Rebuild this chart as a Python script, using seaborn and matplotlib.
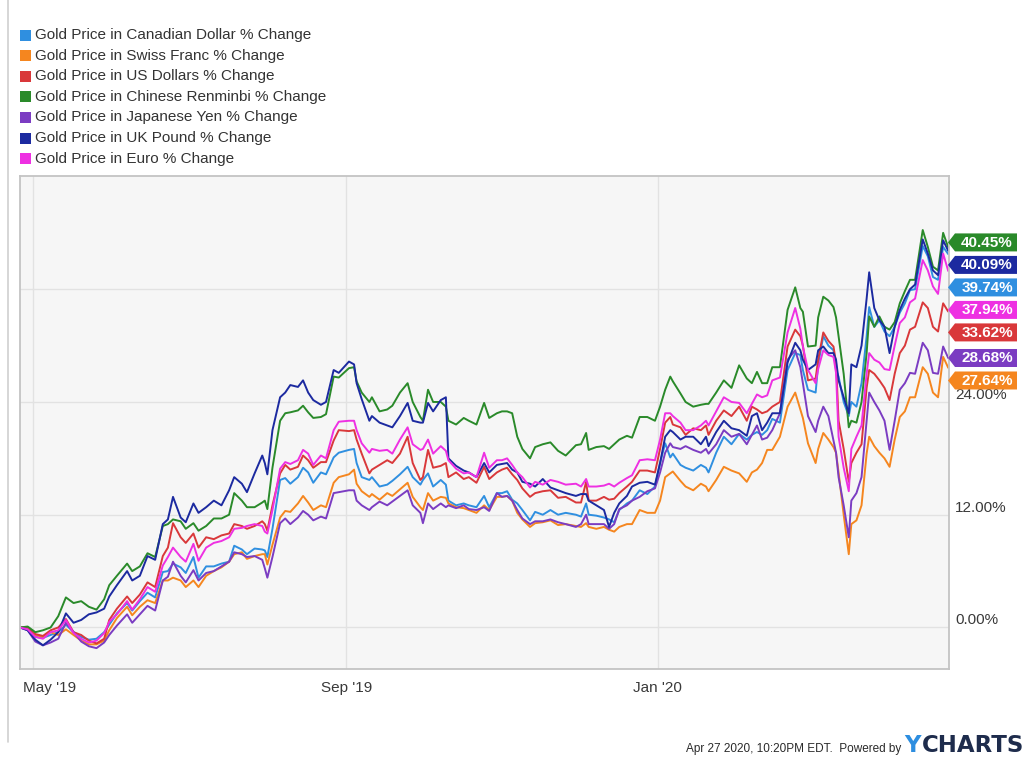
import numpy as np
import pandas as pd
import matplotlib
matplotlib.use("Agg")
import matplotlib.pyplot as plt
import matplotlib.dates as mdates
from matplotlib.patches import Polygon, Rectangle
from matplotlib.transforms import ScaledTranslation
import seaborn as sns

# ---------------------------------------------------------------- data
start_date = "2019-04-26"
day_offsets = [
    0, 3, 6, 9, 12, 15, 18, 21, 24, 27, 30, 33, 35, 38, 42, 44, 47, 50, 53, 56,
    58, 60, 63, 65, 68, 70, 73, 76, 79, 82, 84, 87, 89, 92, 95, 96, 97, 99, 102, 104,
    106, 109, 111, 113, 115, 118, 120, 123, 125, 129, 131, 132, 134, 137, 138, 141, 144, 146, 149, 152,
    154, 157, 158, 160, 162, 165, 167, 168, 171, 174, 176, 179, 182, 184, 187, 189, 191, 193, 195, 197,
    200, 202, 205, 208, 211, 214, 218, 220, 222, 223, 226, 229, 231, 233, 235, 238, 240, 243, 246, 249,
    251, 253, 255, 256, 259, 261, 264, 267, 269, 270, 273, 276, 279, 282, 285, 287, 289, 291, 293, 295,
    298, 301, 304, 306, 307, 309, 312, 313, 315, 317, 319, 320, 321, 323, 325, 326, 328, 330, 332, 333,
    335, 337, 339, 341, 343, 345, 347, 349, 351, 354, 356, 358, 360, 362, 364,
]

cad = [
    0, -0.2, -1.0, -1.1, -0.8, -0.5, 0.3, -0.5, -1.0, -1.3, -1.2, -0.5, 0.3, 1.5, 2.6, 1.8, 2.8, 3.7, 3.2, 5.9,
    6.0, 6.8, 6.4, 5.8, 7.5, 5.3, 6.5, 6.5, 6.8, 7.0, 8.7, 8.3, 7.8, 8.4, 8.3, 8.2, 7.5, 10.5, 15.7, 15.9,
    15.3, 16.0, 17.0, 16.5, 15.4, 16.5, 16.3, 18.1, 18.6, 18.9, 19.0, 17.5, 16.0, 15.7, 16.0, 15.0, 15.2, 15.6, 16.3, 17.1,
    16.0, 15.2, 15.7, 16.4, 15.0, 15.7, 15.2, 13.5, 13.0, 13.2, 13.0, 12.8, 14.0, 12.8, 14.3, 14.3, 14.5, 13.6, 13.2, 12.5,
    11.4, 12.3, 12.0, 12.5, 12.0, 12.2, 12.0, 11.8, 13.2, 12.0, 11.9, 11.7, 11.5, 11.2, 12.5, 13.2, 13.5, 14.6, 14.2, 15.0,
    17.5, 19.6, 18.1, 18.5, 17.3, 17.0, 16.7, 17.3, 17.0, 16.5, 18.6, 20.3, 19.5, 20.6, 20.0, 20.5, 20.8, 20.5, 21.0, 22.2,
    21.8, 27.4, 29.2, 29.0, 27.4, 25.3, 25.0, 28.0, 31.0, 30.0, 29.5, 27.4, 26.7, 24.0, 22.5, 24.0, 23.5, 26.0, 31.0, 34.1,
    32.0, 32.7, 31.5, 31.0, 32.0, 33.5, 34.5, 35.9, 36.0, 40.6, 39.5, 37.3, 37.0, 40.5, 39.74,
]
chf = [
    0, -0.1, -0.8, -1.0, -0.5, -0.8, -0.2, -0.8, -1.4, -1.8, -1.8, -1.4, -0.3, 1.0, 2.2, 1.3, 2.2, 2.9, 2.6, 5.0,
    5.0, 5.3, 5.0, 4.3, 5.0, 4.3, 5.5, 6.0, 6.4, 7.0, 7.8, 8.0, 7.3, 7.6, 7.8, 7.8, 6.7, 8.8, 11.7, 12.4,
    12.3, 13.2, 14.0, 13.3, 12.5, 13.0, 12.8, 15.4, 16.0, 16.3, 16.8, 15.3, 14.5, 13.9, 14.2, 13.6, 14.3, 14.0, 14.7, 15.4,
    13.9, 12.8, 12.5, 14.3, 13.5, 13.9, 13.8, 13.2, 12.8, 12.7, 12.5, 12.2, 13.0, 12.5, 13.9, 13.9, 14.0, 13.5, 12.2, 11.5,
    10.7, 11.1, 11.2, 11.4, 10.9, 11.0, 10.8, 10.7, 11.1, 10.7, 10.5, 10.7, 10.4, 10.2, 10.7, 11.0, 11.0, 12.5, 12.2, 12.2,
    13.5, 16.0, 16.4, 16.6, 15.6, 15.0, 14.6, 15.3, 15.0, 14.5, 15.7, 17.1, 16.7, 16.4, 15.5, 16.5, 16.8, 17.5, 18.9, 18.9,
    20.3, 23.5, 25.0, 23.2, 22.3, 19.6, 17.5, 19.0, 20.7, 20.0, 19.2, 18.6, 16.5, 12.0, 7.8, 11.0, 11.4, 13.0, 18.5, 20.3,
    19.3, 18.6, 18.0, 17.1, 20.0, 22.4, 23.0, 24.5, 24.5, 27.7, 27.0, 25.0, 24.5, 28.8, 27.64,
]
usd = [
    0, 0, -0.7, -0.9, -0.3, 0.0, 0.9, -0.5, -0.8, -1.4, -1.7, -1.2, 0.8, 2.0, 3.3, 2.6, 3.5, 4.8, 4.3, 7.6,
    8.5, 11.1, 9.6, 9.0, 10.0, 8.5, 9.6, 9.4, 9.8, 10.0, 11.0, 10.8, 10.5, 10.8, 11.3, 11.0, 10.3, 13.0, 16.4, 17.3,
    16.8, 17.1, 18.3, 17.8, 17.0, 17.6, 17.6, 19.9, 21.0, 20.9, 21.0, 20.0, 18.5, 16.4, 16.8, 17.3, 17.8, 17.5, 18.5, 20.3,
    17.5, 15.7, 16.0, 18.9, 17.0, 17.2, 17.5, 16.0, 16.5, 15.8, 16.0, 15.4, 17.1, 15.8, 16.5, 16.8, 17.0, 16.3, 15.7, 14.8,
    13.9, 14.3, 14.5, 14.6, 13.8, 13.9, 13.3, 13.3, 15.5, 13.5, 13.5, 13.9, 13.6, 13.7, 14.3, 15.0, 15.5, 16.7, 16.7, 16.5,
    19.0, 21.8, 22.4, 21.6, 21.3, 20.5, 21.2, 21.0, 21.5, 20.5, 22.0, 23.1, 22.5, 23.5, 22.0, 23.5, 23.2, 22.8, 23.0, 23.5,
    24.0, 29.9, 31.7, 31.0, 30.0, 26.3, 26.5, 28.5, 31.4, 30.5, 29.9, 28.2, 22.0, 19.0, 15.5, 17.5, 18.6, 19.5, 25.5, 27.4,
    27.0, 26.3, 25.5, 24.2, 27.0, 29.2, 30.0, 31.7, 32.0, 34.6, 34.0, 32.0, 31.5, 34.5, 33.62,
]
cny = [
    0, 0.1, -0.5, -0.3, 0.0, 1.2, 3.2, 2.6, 2.8, 2.2, 1.9, 3.0, 4.5, 5.5, 6.8, 6.0, 6.5, 7.9, 7.5, 10.8,
    11.0, 11.5, 11.3, 10.5, 11.1, 10.3, 10.8, 11.6, 11.6, 12.0, 14.3, 13.5, 12.8, 12.8, 13.3, 13.5, 12.6, 17.0, 22.0, 22.8,
    22.9, 23.1, 23.6, 22.9, 22.3, 22.4, 22.7, 26.7, 26.6, 27.6, 27.7, 26.2, 25.0, 24.0, 24.5, 23.0, 23.2, 23.6, 25.0, 26.0,
    24.0, 22.4, 22.0, 25.3, 24.0, 24.0, 23.5, 22.0, 21.6, 22.3, 22.0, 21.6, 23.9, 22.3, 22.8, 23.0, 23.0, 22.8, 20.3, 19.0,
    18.0, 19.2, 19.5, 19.7, 18.8, 18.3, 19.4, 19.5, 20.7, 18.9, 19.2, 19.3, 19.0, 19.5, 20.0, 20.4, 20.2, 22.4, 22.4, 22.0,
    23.5, 25.3, 26.7, 26.2, 24.9, 24.0, 23.5, 23.7, 23.8, 23.8, 25.0, 26.3, 25.5, 27.9, 26.5, 26.0, 27.2, 26.0, 26.0, 27.7,
    27.7, 33.8, 36.2, 34.0, 33.6, 29.9, 30.0, 33.0, 35.2, 34.8, 34.1, 33.0, 31.0, 27.0, 21.3, 22.0, 21.8, 24.0, 29.2, 33.1,
    32.0, 33.1, 32.0, 31.7, 32.5, 34.5, 35.8, 37.0, 37.0, 42.3, 40.5, 38.4, 38.0, 42.0, 40.45,
]
jpy = [
    0, -0.3, -1.5, -1.9, -1.6, -1.2, 0.5, -0.5, -1.5, -2.0, -2.2, -1.6, -0.8, 0.2, 1.4, 0.5, 1.4, 2.3, 1.8, 5.0,
    5.4, 7.0, 5.5, 4.8, 6.1, 5.0, 5.8, 6.0, 6.5, 7.0, 8.0, 7.8, 7.5, 7.6, 7.2, 6.3, 5.3, 7.5, 11.1, 11.6,
    11.0, 11.7, 12.4, 12.0, 11.4, 11.8, 11.6, 14.3, 14.4, 14.6, 14.6, 13.5, 13.0, 12.5, 12.8, 13.4, 13.0, 13.4, 14.0, 14.6,
    13.0, 12.2, 11.1, 13.2, 12.6, 13.2, 12.8, 13.0, 12.7, 13.0, 12.6, 12.5, 12.8, 12.4, 14.3, 13.9, 14.0, 13.5, 12.5, 11.6,
    11.0, 11.3, 11.3, 11.5, 11.2, 11.0, 10.7, 11.0, 12.0, 11.0, 11.0, 11.0, 10.5, 11.0, 12.6, 13.0, 13.5, 13.9, 14.5, 14.8,
    16.5, 18.6, 19.6, 19.2, 19.0, 19.3, 18.9, 18.6, 19.0, 18.5, 19.5, 21.0, 20.3, 20.6, 19.5, 20.5, 21.5, 20.0, 20.2, 21.0,
    22.8, 28.5, 29.5, 27.7, 26.0, 22.5, 20.8, 22.0, 23.5, 22.5, 19.9, 18.6, 16.0, 13.0, 9.6, 13.5, 14.3, 16.0, 22.0, 25.0,
    24.0, 23.1, 22.0, 18.9, 22.0, 25.3, 26.0, 27.1, 27.0, 30.3, 29.5, 27.1, 27.0, 29.9, 28.68,
]
gbp = [
    0, -0.3, -1.3, -1.9, -1.3, -0.5, 1.5, 0.5, 0.8, 1.4, 1.6, 2.0, 3.3, 4.5, 6.0, 5.0, 5.5, 7.6, 7.2, 11.0,
    11.5, 13.9, 11.7, 11.2, 13.2, 12.2, 12.8, 13.5, 13.0, 14.6, 16.0, 15.3, 14.4, 16.4, 18.3, 17.5, 16.3, 21.0, 24.5, 25.0,
    25.8, 25.6, 26.3, 25.0, 24.2, 23.7, 24.0, 27.4, 27.1, 28.3, 28.0, 26.0, 24.3, 22.0, 22.5, 21.8, 21.5, 21.3, 22.5, 23.9,
    22.0, 21.8, 21.8, 23.9, 23.0, 24.2, 24.5, 18.0, 17.2, 16.7, 16.5, 16.0, 17.5, 16.5, 17.3, 17.4, 17.5, 16.8, 16.5, 15.5,
    15.3, 15.0, 15.8, 14.9, 14.6, 14.3, 14.0, 14.2, 14.2, 13.5, 13.0, 12.5, 10.7, 12.2, 13.2, 14.0, 15.0, 15.4, 15.5, 15.2,
    17.5, 20.3, 21.0, 20.8, 20.0, 20.3, 20.3, 19.5, 20.3, 19.3, 20.8, 22.0, 21.2, 21.0, 20.4, 22.5, 22.8, 21.0, 21.8, 22.8,
    22.8, 28.2, 30.3, 29.5, 28.5, 27.4, 28.0, 29.5, 29.9, 29.2, 29.2, 28.5, 26.3, 24.5, 22.8, 28.0, 27.7, 30.0, 35.0, 37.8,
    34.0, 32.7, 32.0, 29.2, 32.0, 33.8, 35.0, 36.0, 36.5, 41.3, 39.8, 38.0, 37.5, 41.2, 40.09,
]
eur = [
    0, -0.2, -1.0, -1.2, -0.5, -0.3, 0.8, -0.6, -1.2, -1.6, -1.4, -0.6, 0.6, 1.4, 2.8, 1.9, 3.0, 4.3, 3.8, 6.6,
    7.5, 8.5, 7.5, 7.0, 8.9, 7.1, 8.5, 9.0, 9.2, 9.6, 10.5, 10.6, 10.8, 11.0, 10.8, 10.2, 10.0, 12.5, 16.9, 17.6,
    17.4, 17.8, 18.9, 18.5, 17.3, 18.3, 18.0, 21.0, 21.9, 22.0, 22.0, 21.0, 19.6, 18.6, 19.0, 18.8, 18.9, 18.5, 20.0, 21.3,
    19.5, 18.9, 19.0, 20.0, 18.5, 19.3, 18.8, 17.8, 16.9, 16.4, 16.5, 16.0, 18.6, 17.0, 17.8, 17.8, 18.0, 17.3, 16.5, 16.0,
    14.9, 15.5, 15.2, 15.7, 15.5, 15.2, 15.3, 15.0, 15.8, 15.0, 15.0, 15.1, 15.3, 15.0, 15.4, 15.9, 16.2, 17.8, 17.9, 17.8,
    20.0, 22.8, 22.8, 22.5, 21.8, 21.0, 21.0, 21.5, 22.0, 21.5, 23.0, 24.5, 24.0, 23.9, 22.8, 23.8, 24.8, 24.5, 24.7, 26.3,
    26.6, 31.4, 34.0, 31.8, 29.9, 27.4, 26.0, 27.5, 29.5, 29.0, 28.8, 27.1, 20.3, 17.0, 14.5, 19.0, 20.3, 21.5, 27.0, 29.2,
    28.5, 28.2, 27.5, 27.4, 30.0, 32.4, 33.0, 34.6, 35.0, 39.1, 38.0, 36.3, 35.5, 39.8, 37.94,
]

series_names = [
    "Gold Price in Canadian Dollar % Change",
    "Gold Price in Swiss Franc % Change",
    "Gold Price in US Dollars % Change",
    "Gold Price in Chinese Renminbi % Change",
    "Gold Price in Japanese Yen % Change",
    "Gold Price in UK Pound % Change",
    "Gold Price in Euro % Change",
]
series_values = [cad, chf, usd, cny, jpy, gbp, eur]
series_colors = ["#2f8fe0", "#f5861f", "#d9383a", "#2a8a2a", "#7b3cc2", "#1c2aa0", "#ee30e2"]

# the 36% gridline's label sits under the value tags, so it is left blank
y_ticks = [0, 12, 24, 36]
y_tick_labels = ["0.00%", "12.00%", "24.00%", ""]
x_ticks = ["2019-05-01", "2019-09-01", "2020-01-01"]
x_tick_labels = ["May '19", "Sep '19", "Jan '20"]
footer_text = "Apr 27 2020, 10:20PM EDT.  Powered by"

# ---------------------------------------------------------------- frame
W, H = 1032, 767
sns.set_style("white")
plt.rcParams["font.family"] = ["Liberation Sans", "DejaVu Sans"]

dates = pd.Timestamp(start_date) + pd.to_timedelta(day_offsets, unit="D")
frames = []
for name, vals in zip(series_names, series_values):
    frames.append(pd.DataFrame({"date": dates, "value": vals, "series": name}))
df = pd.concat(frames, ignore_index=True)
palette = dict(zip(series_names, series_colors))

fig = plt.figure(figsize=(W / 100, H / 100), dpi=100)
fig.patch.set_facecolor("white")
ax = fig.add_axes([20 / W, 1 - 669 / H, 929 / W, 493 / H])
ax.set_facecolor("#f6f6f6")

sns.lineplot(data=df, x="date", y="value", hue="series", hue_order=series_names,
             palette=palette, linewidth=1.4, legend=False, estimator=None,
             sort=False, ax=ax)

x0 = pd.Timestamp(start_date)
ax.set_xlim(mdates.date2num(x0), mdates.date2num(x0 + pd.Timedelta(days=364.3)))
ax.set_ylim(-4.42, 48.05)

ax.set_xticks(mdates.date2num(pd.to_datetime(x_ticks)))
ax.set_xticklabels(x_tick_labels)
ax.set_yticks(y_ticks)
ax.set_yticklabels(y_tick_labels)
ax.yaxis.tick_right()
ax.tick_params(axis="both", length=0, labelsize=11, labelcolor="#3a3a3a")
ax.tick_params(axis="x", pad=8.5)
ax.tick_params(axis="y", pad=4.5)
ax.set_xlabel("")
ax.set_ylabel("")
ax.grid(True, color="#e2e2e2", linewidth=1.0)
ax.set_axisbelow(True)
for sp in ax.spines.values():
    sp.set_color("#c4c4c4")
    sp.set_linewidth(1.3)

# first month label sits inside the plot edge
first = ax.get_xticklabels()[0]
first.set_horizontalalignment("left")
first.set_transform(first.get_transform() + ScaledTranslation(-0.10, 0, fig.dpi_scale_trans))
for lab in ax.get_yticklabels():
    lab.set_verticalalignment("center")
    lab.set_transform(lab.get_transform() + ScaledTranslation(0, 0.07, fig.dpi_scale_trans))

# overlay in pixel coordinates for legend, value tags and footer
ov = fig.add_axes([0, 0, 1, 1], zorder=5)
ov.set_xlim(0, W)
ov.set_ylim(H, 0)
ov.axis("off")
ov.patch.set_alpha(0)

# outer border
ov.plot([8, 8], [0, 742], color="#cfcfcf", lw=1.2)

# legend
for i, (name, col) in enumerate(zip(series_names, series_colors)):
    yc = 35 + 20.6 * i
    ov.add_patch(Rectangle((20, yc - 5.5), 11, 11, facecolor=col, edgecolor="none"))
    ov.text(35, yc, name, fontsize=11, color="#333333", va="center", ha="left")

# value tags at the right edge, stacked so they don't overlap
fig.canvas.draw()
last_vals = [v[-1] for v in series_values]
order = np.argsort(last_vals)[::-1]
tag_gap = 22.5
tag_lift = 5.0
prev = None
for idx in order:
    val = last_vals[idx]
    yd = ax.transData.transform((0, val))[1]
    yc = H - yd
    if prev is None:
        yc -= tag_lift
    else:
        yc = max(yc, prev + tag_gap)
    prev = yc
    col = series_colors[idx]
    poly = Polygon([(948, yc), (955, yc - 9), (1017, yc - 9), (1017, yc + 9), (955, yc + 9)],
                   closed=True, facecolor=col, edgecolor="none")
    ov.add_patch(poly)
    ov.text(987, yc + 0.5, f"{val:.2f}%", fontsize=11, fontweight="bold", color="white",
            ha="center", va="center")

# footer
r = fig.canvas.get_renderer()
t_charts = ov.text(1024, 752, "CHARTS", fontsize=16.5, fontweight="bold", color="#1e2c4c",
                   ha="right", va="baseline", family="DejaVu Sans")
bb = t_charts.get_window_extent(renderer=r)
t_y = ov.text(bb.x0 - 0.5, 752, "Y", fontsize=16.5, fontweight="bold", color="#2d8ee0",
              ha="right", va="baseline", family="DejaVu Sans")
bb2 = t_y.get_window_extent(renderer=r)
ov.text(bb2.x0 - 3, 752, footer_text, fontsize=8.5, color="#2a2a2a", ha="right", va="baseline")

fig.savefig("out.png", dpi=100)
